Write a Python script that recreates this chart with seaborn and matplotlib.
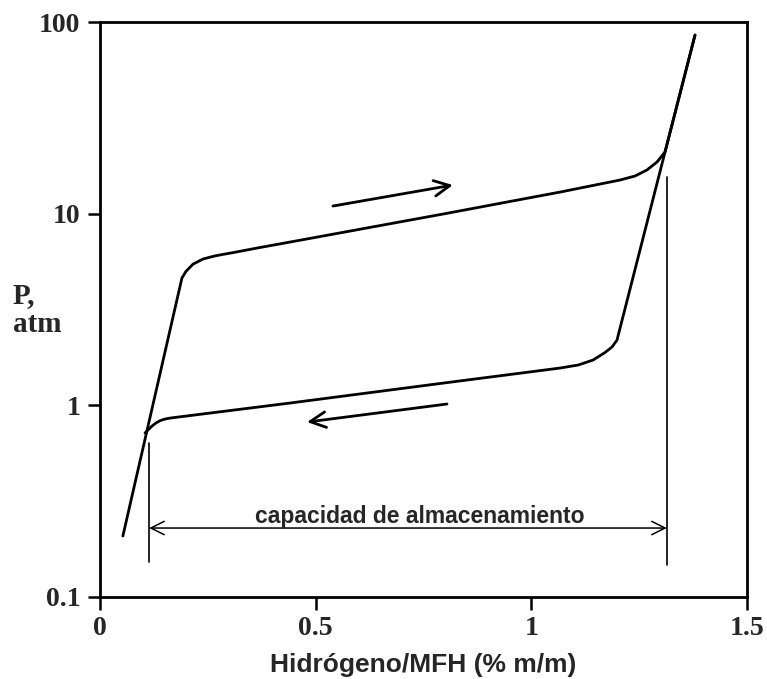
import matplotlib
matplotlib.use("Agg")
import matplotlib.pyplot as plt
import seaborn as sns
import pandas as pd
import numpy as np

# ---- data ----
abs_x = [0.053, 0.190, 0.1994, 0.2156, 0.2388, 0.2666, 0.285, 0.3130, 0.3709, 0.4405, 0.80,
         1.0665, 1.2056, 1.2404, 1.268, 1.2914, 1.310, 1.3795]
abs_p = [0.208, 4.62, 5.0, 5.45, 5.8, 6.02, 6.13, 6.29, 6.66, 7.11, 10.0,
         12.96, 14.98, 15.72, 16.9, 18.6, 21.0, 85.5]

des_x = [1.3795, 1.310, 1.1986, 1.187, 1.1708, 1.143, 1.1086, 1.0665, 0.80, 0.4405,
         0.1623, 0.1507, 0.1400, 0.1300, 0.1206, 0.111, 0.1043]
des_p = [85.5, 21.0, 2.19, 2.015, 1.886, 1.723, 1.623, 1.565, 1.31, 1.028,
         0.858, 0.848, 0.833, 0.810, 0.780, 0.743, 0.717]

cap_left_x = [0.114, 0.114]
cap_left_p = [0.637, 0.152]
cap_right_x = [1.314, 1.314]
cap_right_p = [15.5, 0.147]

cap_arrow_x = [0.114, 1.314]
cap_arrow_p = 0.229
cap_text = "capacidad de almacenamiento"
cap_text_x = 0.742
cap_text_p = 0.262

abs_arrow_x = [0.540, 0.818]
abs_arrow_p = [10.96, 14.1]
des_arrow_x = [0.8045, 0.480]
des_arrow_p = [1.016, 0.818]

xticks = [0, 0.5, 1, 1.5]
xticklabels = ["0", "0.5", "1", "1.5"]
yticks = [0.1, 1, 10, 100]
yticklabels = ["0.1", "1", "10", "100"]
xlabel = "Hidrógeno/MFH (% m/m)"
ylabel_lines = ["P,", "atm"]

sns.set_style("ticks")

fig = plt.figure(figsize=(7.67, 6.79), dpi=100)
ax = fig.add_axes([100/767, 1-597/679, 647/767, 575/679])

df_abs = pd.DataFrame({"x": abs_x, "p": abs_p})
df_des = pd.DataFrame({"x": des_x, "p": des_p})
kw = dict(sort=False, estimator=None, errorbar=None, color="black", ax=ax)
sns.lineplot(data=df_abs, x="x", y="p", lw=2.0, **kw)
sns.lineplot(data=df_des, x="x", y="p", lw=2.0, **kw)
sns.lineplot(x=cap_left_x, y=cap_left_p, lw=1.2, **kw)
sns.lineplot(x=cap_right_x, y=cap_right_p, lw=1.2, **kw)
for ln in ax.lines:
    ln.set_solid_joinstyle("round")
    ln.set_solid_capstyle("round")

ax.set_yscale("log")
ax.set_xlim(0, 1.5)
ax.set_ylim(0.1, 100)

ax.annotate("", xy=(cap_arrow_x[1], cap_arrow_p), xytext=(cap_arrow_x[0], cap_arrow_p),
            arrowprops=dict(arrowstyle="<->", lw=1.1, color="black", mutation_scale=24,
                            shrinkA=0, shrinkB=0))
ax.text(cap_text_x, cap_text_p, cap_text,
        ha="center", va="center", fontsize=16.5, fontweight="bold",
        family="Liberation Sans")

ax.annotate("", xy=(abs_arrow_x[1], abs_arrow_p[1]), xytext=(abs_arrow_x[0], abs_arrow_p[0]),
            arrowprops=dict(arrowstyle="->", lw=2.0, color="black", mutation_scale=28,
                            shrinkA=0, shrinkB=0))
ax.annotate("", xy=(des_arrow_x[1], des_arrow_p[1]), xytext=(des_arrow_x[0], des_arrow_p[0]),
            arrowprops=dict(arrowstyle="->", lw=2.0, color="black", mutation_scale=28,
                            shrinkA=0, shrinkB=0))

ax.set_xticks(xticks)
ax.set_xticklabels(xticklabels)
ax.set_yticks(yticks)
ax.set_yticklabels(yticklabels)
ax.minorticks_off()
ax.yaxis.set_minor_locator(matplotlib.ticker.NullLocator())

for lab in ax.get_xticklabels() + ax.get_yticklabels():
    lab.set_fontfamily("Liberation Serif")
    lab.set_fontweight("bold")
    lab.set_fontsize(20)

ax.tick_params(axis="both", direction="out", length=9, width=1.8, color="black")
ax.tick_params(axis="x", pad=5)
ax.tick_params(axis="y", pad=5)

for s in ax.spines.values():
    s.set_linewidth(2.0)
    s.set_color("black")
    s.set_visible(True)

ax.set_xlabel(xlabel, fontsize=19, fontweight="bold", family="Liberation Sans", labelpad=8)
ax.set_ylabel("")

fig.text(13/767, 1-296/679, ylabel_lines[0], fontsize=21, fontweight="bold",
         family="Liberation Serif", ha="left", va="center")
fig.text(13/767, 1-324/679, ylabel_lines[1], fontsize=21, fontweight="bold",
         family="Liberation Serif", ha="left", va="center")

fig.savefig("out.png", dpi=100, facecolor="white")
